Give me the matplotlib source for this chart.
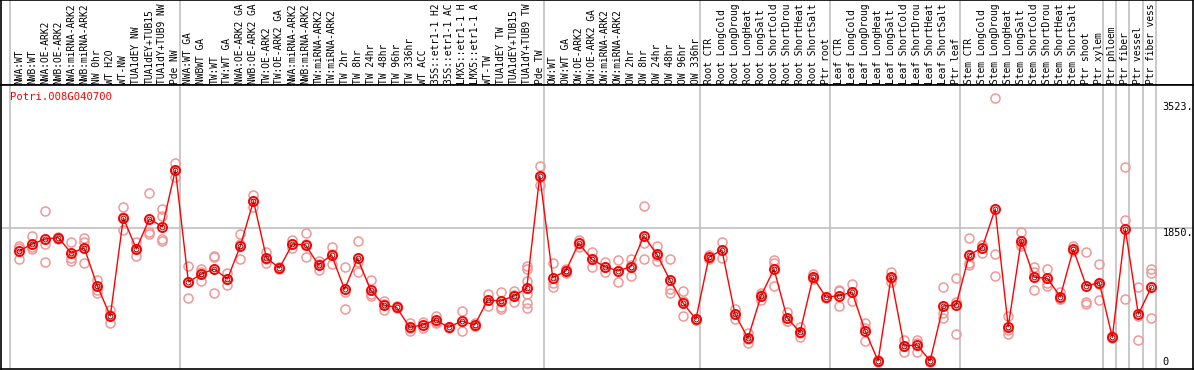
import matplotlib
matplotlib.use("Agg")
import matplotlib.pyplot as plt

gene = "Potri.008G040700"

# sample names as printed (the chart cuts them at 14 characters)
labels = [
    "NWA:WT", "NWB:WT", "NWA:OE-ARK2", "NWB:OE-ARK2", "NWA:miRNA-ARK2", "NWB:miRNA-ARK2",
    "NW 0hr", "WT H2O", "WT-NW", "TUA1dEY NW", "TUA1dEY+TUB15", "TUA1dY+TUB9 NW", "Pde NW",
    "NWA:WT GA", "NWBWT GA", "TW:WT", "TW:WT GA", "NWA:OE-ARK2 GA", "NWB:OE-ARK2 GA",
    "TW:OE-ARK2", "TW:OE-ARK2 GA", "NWA:miRNA-ARK2", "NWB:miRNA-ARK2", "TW:miRNA-ARK2",
    "TW:miRNA-ARK2", "TW 2hr", "TW 8hr", "TW 24hr", "TW 48hr", "TW 96hr", "TW 336hr",
    "WT ACC", "35S::etr1-1 H2", "35S::etr1-1 AC", "LMX5::etr1-1 H", "LMX5::etr1-1 A",
    "WT-TW", "TUA1dEY TW", "TUA1dEY+TUB15", "TUA1dY+TUB9 TW", "Pde TW",
    "OW:WT", "OW:WT GA", "OW:OE-ARK2", "OW:OE-ARK2 GA", "OW:miRNA-ARK2", "OW:miRNA-ARK2",
    "OW 2hr", "OW 8hr", "OW 24hr", "OW 48hr", "OW 96hr", "OW 336hr",
    "Root CTR", "Root LongCold", "Root LongDroug", "Root LongHeat", "Root LongSalt",
    "Root ShortCold", "Root ShortDrou", "Root ShortHeat", "Root ShortSalt", "Ptr root",
    "Leaf CTR", "Leaf LongCold", "Leaf LongDroug", "Leaf LongHeat", "Leaf LongSalt",
    "Leaf ShortCold", "Leaf ShortDrou", "Leaf ShortHeat", "Leaf ShortSalt", "Ptr leaf",
    "Stem CTR", "Stem LongCold", "Stem LongDroug", "Stem LongHeat", "Stem LongSalt",
    "Stem ShortCold", "Stem ShortDrou", "Stem ShortHeat", "Stem ShortSalt", "Ptr shoot",
    "Ptr xylem", "Ptr phloem", "Ptr fiber", "Ptr vessel", "Ptr fiber vess",
]

# first index of each sample group (last entry closes the final group)
group_starts = [0, 13, 41, 53, 63, 73, 84, 85, 86, 87, 88]

means = [
    1533, 1630, 1699, 1717, 1505, 1574, 1050, 635, 1989, 1561, 1975, 1868, 2652,
    1105, 1215, 1284, 1146, 1606, 2223, 1436, 1298, 1630, 1616, 1340, 1478, 1004,
    1432, 994, 787, 755, 479, 511, 580, 479, 566, 511, 856, 842, 911, 1018, 2569,
    1164, 1257, 1639, 1418, 1316, 1257, 1316, 1740, 1487, 1132, 819, 590,
    1446, 1547, 663, 327, 911, 1284, 612, 410, 1170, 894,
    916, 963, 432, 15, 1170, 221, 235, 15, 773, 787,
    1478, 1578, 2113, 487, 1675, 1170, 1156, 902, 1556, 1050, 1095,
    341, 1833, 659, 1032,
]

reps = [
    [1602, 1574, 1422], [1740, 1588, 1561], [2085, 1630, 1381], [1726, 1712, 1699],
    [1657, 1436, 1395], [1712, 1657, 1367], [1132, 994, 953], [718, 539, 648],
    [2145, 1823, 1999], [1661, 1468, 1554], [2334, 1799, 1768], [2113, 2016, 1699, 1675],
    [2752, 2551, 2653],
    [1326, 884, 1105], [1284, 1123, 1238], [1468, 1446, 957], [1233, 1063, 1142],
    [1768, 1422, 1628], [2306, 2145, 2218], [1519, 1367, 1422], [1312, 1284, 1298],
    [1685, 1574, 1631], [1777, 1446, 1625], [1399, 1270, 1351], [1592, 1353, 1489],
    [1308, 732, 972], [1671, 1385, 1247], [1132, 939, 911], [847, 718, 796],
    [770, 740, 755], [534, 432, 471], [557, 465, 511], [639, 543, 558], [487, 465, 485],
    [704, 428, 566], [534, 497, 502], [939, 773, 856], [963, 755, 732], [985, 824, 924],
    [1330, 1284, 1119, 939, 811, 742], [2707, 2444, 2556],
    [1363, 1040, 1089], [1280, 1225, 1266], [1685, 1584, 1648], [1515, 1316, 1423],
    [1385, 1247, 1316], [1409, 1101, 1261], [1418, 1192, 1338], [2150, 1639, 1418],
    [1602, 1399, 1460], [1418, 1004, 949], [981, 631, 845], [590, 580, 600],
    [1478, 1418, 1442], [1653, 1440, 1548], [732, 590, 667], [396, 267, 318],
    [856, 930, 947], [1409, 1371, 1054], [695, 570, 571], [479, 349, 402],
    [1215, 1156, 1139], [880, 900, 902],
    [994, 773, 981], [1077, 842, 970], [534, 290, 472], [5, 15, 25], [1247, 1109, 1154],
    [304, 142, 217], [304, 142, 259], [28, 5, 12], [1040, 681, 603], [1156, 833, 383],
    [1708, 1363, 1340], [1616, 1501, 1617], [3642, 1487, 1188], [635, 383, 443],
    [1791, 1630, 1604], [1316, 1247, 994], [1280, 1095, 1054], [971, 870, 865],
    [1602, 1540, 1526], [1523, 797, 830], [1353, 856, 1076],
    [341, 330, 352], [2689, 1961, 866], [1032, 304, 641], [1284, 1225, 603],
]

ytick_vals = [3523, 1850, 0]
ytick_text = ["3523.", "1850.", "0"]

W, H = 1194, 370
fig = plt.figure(figsize=(W / 100, H / 100), dpi=100)
fig.patch.set_facecolor("white")

x0, x1 = 1, 1193
ytop, ybot = 85, 369
xlim = (-1.4, 90.2)
ylim = (-97, 3825)

ax_top = fig.add_axes([x0 / W, (H - ytop) / H, (x1 - x0) / W, ytop / H])
ax = fig.add_axes([x0 / W, (H - ybot) / H, (x1 - x0) / W, (ybot - ytop) / H])

gray = "#c0c0c0"
for a in (ax_top, ax):
    a.set_xlim(*xlim)
    a.set_xticks([])
    a.set_yticks([])
    for s in a.spines.values():
        s.set_color("black")
        s.set_linewidth(1.2)
    for g in group_starts:
        a.axvline(g - 0.68, color=gray, lw=1.2, zorder=0)

ax_top.set_ylim(0, 1)
for i, lab in enumerate(labels):
    ax_top.text(i, 0.015, lab, rotation=90, ha="center", va="bottom",
                family="DejaVu Sans Mono", fontsize=6.9)

ax.set_ylim(*ylim)
ax.axhline(1850, color=gray, lw=1.2, zorder=0)

xs = list(range(len(means)))
rx, ry = [], []
for i, r in enumerate(reps):
    for v in r:
        rx.append(i)
        ry.append(v)
ax.plot(rx, ry, "o", ms=6.5, mfc="none", mec="#f09898", mew=1.1, zorder=2)
ax.plot(xs, means, "-", color="red", lw=1.0, zorder=3)
ax.plot(xs, means, "o", ms=6.5, mfc="none", mec="red", mew=1.4, zorder=4)
ax.plot(xs, means, "o", ms=3.5, mfc="none", mec="#600000", mew=0.6, zorder=5)

ax.text(9 / (x1 - x0), 1 - 12 / (ybot - ytop), gene, transform=ax.transAxes,
        color="red", family="DejaVu Sans Mono", fontsize=7.6, ha="left", va="center")

offs = {3523: 0, 1850: -70, 0: 0}
for v, t in zip(ytick_vals, ytick_text):
    ax.text(87.85, v + offs[v], t, family="DejaVu Sans Mono", fontsize=7.4,
            ha="left", va="center")

fig.savefig("out.png", dpi=100)
